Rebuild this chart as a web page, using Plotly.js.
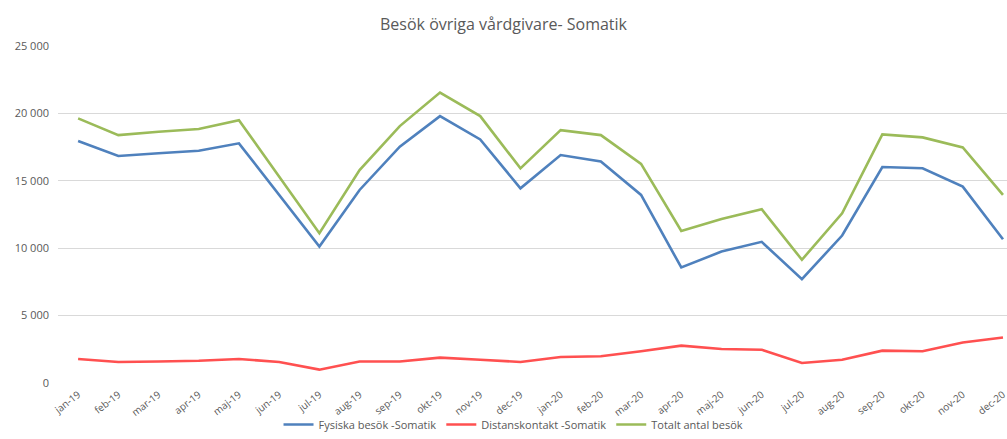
<!DOCTYPE html>
<html>
<head>
<meta charset="utf-8">
<script src="https://cdn.plot.ly/plotly-3.0.1.min.js"></script>
<style>html,body{margin:0;padding:0;background:#fff;}#chart{width:1007px;height:439px;}</style>
</head>
<body>
<div id="chart"></div>
<script>
const months = ["jan-19","feb-19","mar-19","apr-19","maj-19","jun-19","jul-19","aug-19","sep-19","okt-19","nov-19","dec-19",
"jan-20","feb-20","mar-20","apr-20","maj-20","jun-20","jul-20","aug-20","sep-20","okt-20","nov-20","dec-20"];
const fysiska = [17950,16840,17040,17230,17780,13950,10120,14320,17530,19800,18070,14440,
16910,16440,13950,8570,9750,10470,7700,10940,16020,15930,14570,10670];
const distans = [1780,1560,1600,1650,1780,1560,990,1600,1600,1880,1730,1560,
1930,1980,2350,2770,2520,2470,1480,1730,2400,2350,3010,3380];
const totalt = [19630,18390,18640,18840,19500,15310,11110,15800,19060,21550,19800,15920,
18760,18390,16250,11280,12170,12890,9140,12590,18440,18220,17480,13950];
const yTicks = [0,5000,10000,15000,20000,25000];
const yTickText = ["0","5 000","10 000","15 000","20 000","25 000"];

const font = {family: "Open Sans, Liberation Sans, sans-serif", color: "#595959"};
const idx = months.map((m,i)=>i);
const mk = (name, y, color) => ({type:"scatter", mode:"lines", name, x: idx, y,
  line:{color, width:2.6}, hoverinfo:"y"});
const data = [
  mk("Fysiska besök -Somatik", fysiska, "#4F81BD"),
  mk("Distanskontakt -Somatik", distans, "#FF5050"),
  mk("Totalt antal besök", totalt, "#9BBB59")
];
const layout = {
  width:1007, height:439,
  margin:{l:58, r:0, t:46, b:56},
  paper_bgcolor:"#fff", plot_bgcolor:"#fff",
  font: Object.assign({size:11}, font),
  title:{text:"Besök övriga vårdgivare- Somatik", x:0.5, xanchor:"center", y:0.945, yanchor:"middle",
    font:Object.assign({}, font, {size:16})},
  xaxis:{range:[-0.5,23.1], tickmode:"array", tickvals:idx, ticktext:months, tickangle:-38,
    showgrid:false, zeroline:false, showline:false, ticks:"", automargin:false,
    ticklabeloverflow:"allow", ticklabelstandoff:3,
    tickfont:Object.assign({}, font, {size:10})},
  yaxis:{range:[0,25000], tickmode:"array", tickvals:yTicks, ticktext:yTickText, automargin:false,
    showgrid:true, gridcolor:"#D9D9D9", gridwidth:1, zeroline:false, showline:false, ticks:"",
    ticklabelstandoff:8, tickfont:Object.assign({}, font, {size:11})},
  legend:{orientation:"h", x:0.48, xanchor:"center", yref:"container", y:-0.03, yanchor:"bottom",
    bgcolor:"rgba(0,0,0,0)",
    font:Object.assign({}, font, {size:11}), itemwidth:30, tracegroupgap:0},
  showlegend:true
};
Plotly.newPlot("chart", data, layout, {displayModeBar:false, staticPlot:true});
</script>
</body>
</html>
